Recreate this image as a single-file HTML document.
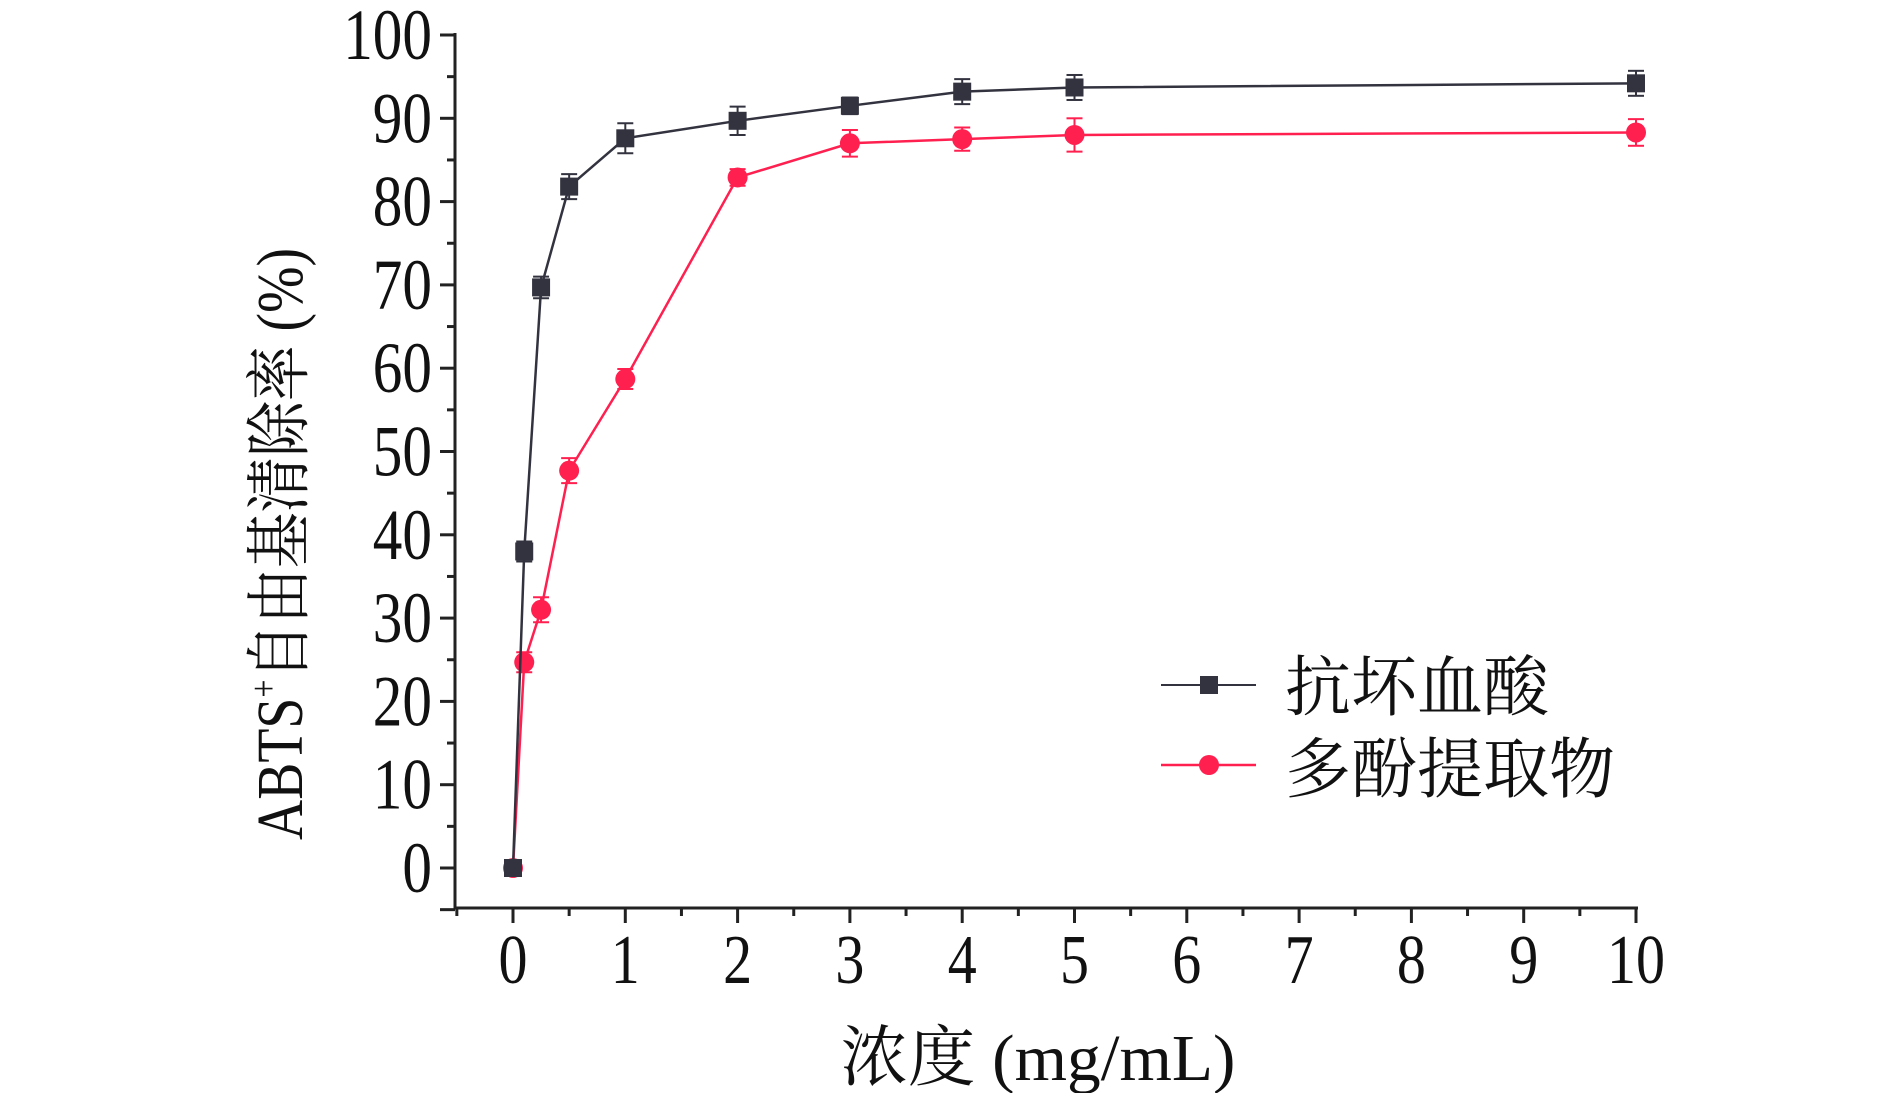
<!DOCTYPE html>
<html><head><meta charset="utf-8"><style>
body{margin:0;background:#fff}
svg text{font-family:"Liberation Serif","Noto Serif CJK SC",serif;fill:#111}
</style></head><body>
<svg id="chart" width="1890" height="1093" viewBox="0 0 1890 1093" xmlns="http://www.w3.org/2000/svg">
<g id="axes"></g><g id="series"></g>
<text transform="translate(302,544) rotate(-90)" text-anchor="middle" font-size="66" textLength="592" lengthAdjust="spacingAndGlyphs">ABTS<tspan font-size="38" dy="-26">+</tspan><tspan dy="26">自由基清除率 (%)</tspan></text>
<text x="1038" y="1080" text-anchor="middle" font-size="66" textLength="395" lengthAdjust="spacingAndGlyphs">浓度 (mg/mL)</text>
<g>
<line x1="1161" y1="685" x2="1256" y2="685" stroke="#333340" stroke-width="2"/>
<rect x="1200" y="676" width="18" height="18" fill="#333340"/>
<text x="1285" y="710" font-size="66">抗坏血酸</text>
<line x1="1161" y1="765" x2="1256" y2="765" stroke="#ff2050" stroke-width="2.5"/>
<circle cx="1209" cy="765" r="10" fill="#ff2050"/>
<text x="1285" y="792" font-size="66">多酚提取物</text>
</g>
</svg>
<script>
const xValues=[0,0.1,0.25,0.5,1,2,3,4,5,10];
const ascorbic=[0,38,69.7,81.8,87.6,89.7,91.5,93.2,93.7,94.2];
const ascorbicErr=[0.8,1.2,1.3,1.5,1.8,1.7,1.0,1.5,1.5,1.5];
const polyphenol=[0,24.7,31,47.7,58.7,82.9,87,87.5,88,88.3];
const polyphenolErr=[0.8,1.2,1.5,1.5,1.2,1.0,1.6,1.4,2.0,1.6];
const yTicks=[0,10,20,30,40,50,60,70,80,90,100];
const xTicks=[0,1,2,3,4,5,6,7,8,9,10];
const NS='http://www.w3.org/2000/svg';
const X=v=>513+v*112.3;
const Y=v=>868-v*8.33;
const ax=document.getElementById('axes'),se=document.getElementById('series');
function mk(t,a,p){const e=document.createElementNS(NS,t);for(const k in a)e.setAttribute(k,a[k]);p.appendChild(e);return e;}
const yAxis=mk('line',{x1:455,y1:33,x2:455,y2:909,stroke:'#222','stroke-width':3},ax);


const xAxis=mk('line',{x1:454,y1:908,x2:X(10)+2,y2:908,stroke:'#222','stroke-width':3},ax);


for(let i=-1;i<yTicks.length;i++){
  const v=i<0?-5:yTicks[i];
  mk('line',{x1:440,y1:Y(v),x2:455,y2:Y(v),stroke:'#222','stroke-width':3},ax);
  if(i>=0&&v<100)mk('line',{x1:447,y1:Y(v+5),x2:455,y2:Y(v+5),stroke:'#222','stroke-width':3},ax);
  if(i>=0){const s=String(v);const t=mk('text',{x:432,y:Y(v)+24,'text-anchor':'end','font-size':72,textLength:29.6*s.length,lengthAdjust:'spacingAndGlyphs'},ax);t.textContent=s;
  
  }
}
mk('line',{x1:X(-0.5),y1:908,x2:X(-0.5),y2:916,stroke:'#222','stroke-width':3},ax);
xTicks.forEach(v=>{
  mk('line',{x1:X(v),y1:908,x2:X(v),y2:923,stroke:'#222','stroke-width':3},ax);
  if(v<10)mk('line',{x1:X(v+0.5),y1:908,x2:X(v+0.5),y2:916,stroke:'#222','stroke-width':3},ax);
  const s=String(v);
  const t=mk('text',{x:X(v),y:983,'text-anchor':'middle','font-size':70,textLength:29*s.length,lengthAdjust:'spacingAndGlyphs'},ax);t.textContent=s;
  
  
});
function series(vals,errs,color,shape,name){
  const g=mk('g',{},se);
  
  
  mk('polyline',{points:xValues.map((x,i)=>X(x)+','+Y(vals[i])).join(' '),fill:'none',stroke:color,'stroke-width':2.5},g);
  xValues.forEach((x,i)=>{
    const cx=X(x),cy=Y(vals[i]),e=errs[i]*8.33;
    mk('line',{x1:cx,y1:cy-e,x2:cx,y2:cy+e,stroke:color,'stroke-width':2},g);
    mk('line',{x1:cx-8,y1:cy-e,x2:cx+8,y2:cy-e,stroke:color,'stroke-width':2},g);
    mk('line',{x1:cx-8,y1:cy+e,x2:cx+8,y2:cy+e,stroke:color,'stroke-width':2},g);
    const m=shape==='sq'?mk('rect',{x:cx-9,y:cy-9,width:18,height:18,fill:color},g):mk('circle',{cx:cx,cy:cy,r:10,fill:color},g);
    
    
  });
}
series(polyphenol,polyphenolErr,'#ff2050','c','polyphenol-series');
series(ascorbic,ascorbicErr,'#333340','sq','ascorbic-series');
</script>
</body></html>
